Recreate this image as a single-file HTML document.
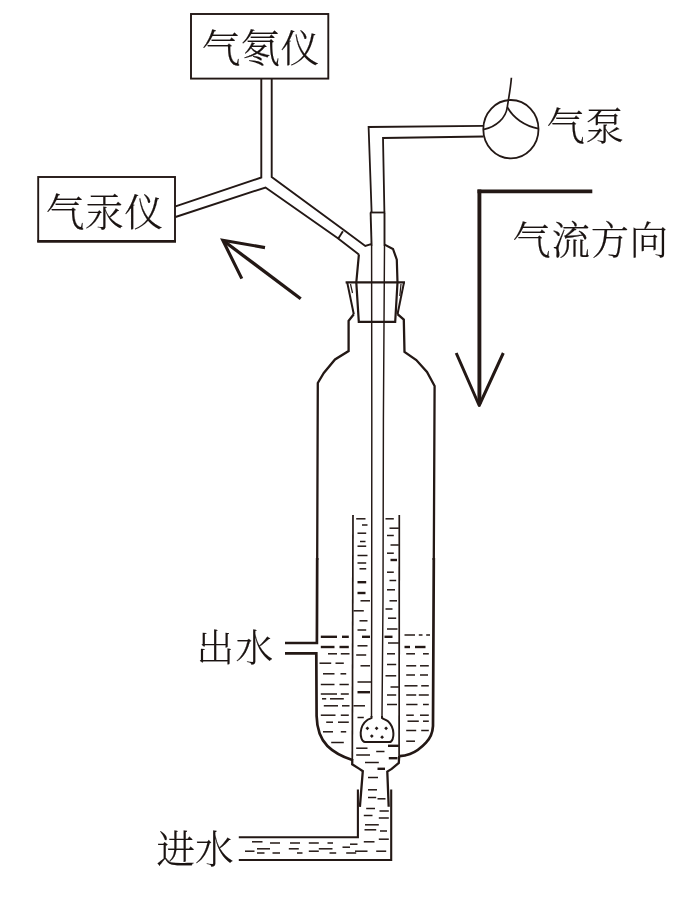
<!DOCTYPE html>
<html lang="zh-CN">
<head>
<meta charset="utf-8">
<title>气氡仪 气汞仪 集气装置示意图</title>
<style>
html,body{margin:0;padding:0;background:#fff;}
body{width:700px;height:898px;overflow:hidden;}
svg{display:block;will-change:transform;}
svg text{font-family:"Liberation Serif","Noto Serif CJK SC",serif;font-weight:300;}
</style>
</head>
<body>
<svg width="700" height="898" viewBox="0 0 700 898" fill="none" stroke="#231815" stroke-linejoin="miter" stroke-linecap="butt">
<rect x="0" y="0" width="700" height="898" fill="#ffffff" stroke="none"/>
<g id="boxes">
<rect x="191" y="14" width="137.3" height="64.6" stroke-width="1.9"/>
<rect x="38.2" y="177" width="136.8" height="64" stroke-width="1.9"/>
<line x1="37.2" y1="241.4" x2="176" y2="241.4" stroke-width="2.8"/>
</g>
<g id="ytube">
<path d="M261.3 79 L261.3 177.5 L175.5 206.3" stroke-width="1.9"/>
<path d="M175.5 217 L265.5 187.5 L337.5 238 L358.9 254.4" stroke-width="1.9"/>
<path d="M271.7 79 L271.7 177 L343.8 230 L365.3 246 L371.1 244.1" stroke-width="1.9"/>
<line x1="342.9" y1="231.3" x2="338" y2="239" stroke-width="1.9"/>
</g>
<g id="arrow1">
<path d="M300.7 298.7 L223.5 240.8" stroke-width="3.3"/>
<path d="M265 247.6 L222.8 240.3 L241.8 278.6" stroke-width="3.1"/>
</g>
<g id="pump">
<ellipse cx="510.9" cy="129.2" rx="27.6" ry="29.2" stroke-width="1.8"/>
<path d="M511.4 77.8 C510.4 90 508.6 98 507.3 107" stroke-width="1.7"/>
<path d="M507.3 107 C506 118 496 127 484 129.3" stroke-width="1.7"/>
<path d="M507.3 107 C513 118 525 126 538.3 128.6" stroke-width="1.7"/>
<path d="M483.6 125.8 L368.6 127 L371.6 212" stroke-width="1.8"/>
<path d="M483.6 136.5 L383 138 L384.4 212" stroke-width="1.8"/>
</g>
<g id="airflow">
<path d="M592.3 191.4 L477.5 191.4" stroke-width="3.7"/>
<path d="M479.4 189.6 L479.4 404" stroke-width="3.9"/>
<path d="M456.2 353 L479.2 405.5 L503.3 353" stroke-width="3" stroke-linejoin="round"/>
</g>
<g id="head">
<line x1="370" y1="212.5" x2="385.2" y2="212.5" stroke-width="1.8"/>
<path d="M370.6 212.5 L371.6 246" stroke-width="1.9"/>
<path d="M384.5 212.5 L384.5 246" stroke-width="1.9"/>
<path d="M358.9 254.4 L356.3 282.4 L358.8 321.9 L395.2 321.9 L397.5 282.4 L396.8 259.6 L393 249 L384.6 244.6" stroke-width="2.2"/>
<path d="M345.6 282.4 L405 282.4" stroke-width="2.2"/>
<path d="M347.2 282.4 L353.8 314.2" stroke-width="2"/>
<path d="M404 282.4 L397.5 314.2" stroke-width="2"/>
<path d="M350.5 284 L352.5 293" stroke-width="1.2"/>
<path d="M401 284 L399.8 296" stroke-width="1.2"/>
</g>
<g id="bottle">
<path d="M353.8 314.2 L348.6 320.8 L348.6 351 L335 359.5 L323.8 373 L317.8 383 L317.2 560" stroke-width="2.3"/>
<path d="M317.2 558 L316.9 643 L285 643" stroke-width="2.7"/>
<path d="M397.5 314.2 L403.8 319.6 L404.5 352 L416.3 360 L427 372 L434.6 386 L433.8 560" stroke-width="2.3"/>
<path d="M433.8 558 L433 726 C432.6 733 430 738.5 426 742.6 C421 748 414 752.5 410 754 C406.5 755.3 403 756 399.5 756.2" stroke-width="2.7"/>
<path d="M285 653.3 L316.3 653.3 L316.6 716 C316.9 728 321 739.5 327.4 746 C334 752.5 343 757 352.3 760" stroke-width="2.7"/>
</g>
<g id="tubes">
<path d="M371.6 246 L371.8 420 L371.7 600 L371.5 717" stroke-width="1.45"/>
<path d="M384.5 246 L383.4 420 L383 600 L382 717" stroke-width="1.45"/>
<path d="M353 515 L352.3 760" stroke-width="1.7"/>
<path d="M399.3 515 L399.1 757" stroke-width="1.7"/>
<path d="M371.5 716 L371.5 718 C370 719 368.5 719 367 720.3 C364 722.5 361.2 727 360.7 732.3 C360.5 736 361.5 742 365 742 L389.4 742 C392.5 742 393.6 737 393.4 733.4 C393.2 729 391.5 724.5 388 721.3 C386 719.5 383.5 719.3 382 718 L382 716" stroke-width="2.0"/>
</g>
<g id="inlet">
<path d="M352.3 759 L352.2 764.3 L359.4 768.9 L362.8 771.2 L359.9 806.8" stroke-width="2.3"/>
<path d="M399.2 756 L398.8 763 L391.7 768.9 L387.3 771.6 L388.7 806.8" stroke-width="2.3"/>
<path d="M357.9 789.4 L357.9 837.3 L238.8 837.3" stroke-width="2.1"/>
<path d="M391.2 789.4 L391.2 860 L238.8 860" stroke-width="2.1"/>
</g>
<g id="water" stroke-linecap="butt">
<path d="M356.2 518.8H365.5" stroke-width="1.5"/>
<path d="M362.0 525.0H367.5" stroke-width="1.5"/>
<path d="M357.5 533.2H366.2" stroke-width="1.5"/>
<path d="M360.0 541.5H365.5" stroke-width="1.5"/>
<path d="M357.5 546.2H366.2" stroke-width="1.5"/>
<path d="M357.5 555.5H367.5" stroke-width="1.5"/>
<path d="M357.5 563.0H366.2" stroke-width="1.5"/>
<path d="M359.5 568.8H366.2" stroke-width="1.5"/>
<path d="M357.5 582.2H366.2" stroke-width="2.4"/>
<path d="M357.5 593.0H365.5" stroke-width="2.4"/>
<path d="M360.5 600.8H370.0" stroke-width="1.5"/>
<path d="M353.5 610.8H363.8" stroke-width="1.5"/>
<path d="M359.5 620.8H367.5" stroke-width="1.5"/>
<path d="M357.5 630.0H366.2" stroke-width="1.5"/>
<path d="M385.5 518.8H393.8" stroke-width="1.5"/>
<path d="M389.5 528.2H398.8" stroke-width="1.5"/>
<path d="M387.0 535.5H393.8" stroke-width="1.5"/>
<path d="M390.5 545.0H398.8" stroke-width="1.5"/>
<path d="M387.0 553.2H393.8" stroke-width="1.5"/>
<path d="M390.5 560.0H397.0" stroke-width="2.4"/>
<path d="M387.0 572.2H393.8" stroke-width="1.5"/>
<path d="M389.5 580.5H396.2" stroke-width="1.5"/>
<path d="M387.0 589.8H395.0" stroke-width="1.5"/>
<path d="M389.5 600.8H397.0" stroke-width="1.5"/>
<path d="M385.5 609.0H392.5" stroke-width="1.5"/>
<path d="M388.0 618.2H396.2" stroke-width="1.5"/>
<path d="M387.0 629.0H397.5" stroke-width="1.5"/>
<path d="M320.8 636.8H337.0" stroke-width="2.4"/>
<path d="M342.0 636.8H348.8" stroke-width="2.4"/>
<path d="M362.0 636.8H370.0" stroke-width="2.4"/>
<path d="M384.5 636.8H392.5" stroke-width="2.4"/>
<path d="M404.5 635.0H415.0" stroke-width="1.5"/>
<path d="M418.8 635.0H422.5" stroke-width="1.5"/>
<path d="M426.2 635.0H430.0" stroke-width="1.5"/>
<path d="M320.8 647.0H334.5" stroke-width="2.4"/>
<path d="M339.5 647.0H348.8" stroke-width="2.4"/>
<path d="M404.5 647.0H410.0" stroke-width="2.4"/>
<path d="M415.0 647.0H425.5" stroke-width="2.4"/>
<path d="M357.5 645.8H367.5" stroke-width="1.5"/>
<path d="M388.0 643.0H398.8" stroke-width="1.5"/>
<path d="M328.0 653.8H337.0" stroke-width="1.5"/>
<path d="M340.8 653.8H349.5" stroke-width="1.5"/>
<path d="M387.0 653.8H395.0" stroke-width="1.5"/>
<path d="M406.2 653.8H415.0" stroke-width="1.5"/>
<path d="M423.0 653.8H428.8" stroke-width="1.5"/>
<path d="M356.2 655.0H366.2" stroke-width="1.5"/>
<path d="M319.5 663.2H331.2" stroke-width="1.5"/>
<path d="M335.5 663.2H343.8" stroke-width="1.5"/>
<path d="M360.5 665.8H370.0" stroke-width="1.5"/>
<path d="M406.2 665.8H416.2" stroke-width="1.5"/>
<path d="M420.0 665.8H428.8" stroke-width="1.5"/>
<path d="M387.0 664.5H396.2" stroke-width="1.5"/>
<path d="M323.0 673.8H334.5" stroke-width="1.5"/>
<path d="M340.5 673.8H346.2" stroke-width="1.5"/>
<path d="M406.2 675.0H415.0" stroke-width="1.5"/>
<path d="M420.0 675.0H428.0" stroke-width="1.5"/>
<path d="M385.5 675.8H396.2" stroke-width="1.5"/>
<path d="M357.5 682.0H371.2" stroke-width="1.5"/>
<path d="M320.8 684.5H334.5" stroke-width="1.5"/>
<path d="M339.5 684.5H348.8" stroke-width="1.5"/>
<path d="M404.5 685.8H417.5" stroke-width="1.5"/>
<path d="M421.2 685.8H428.8" stroke-width="1.5"/>
<path d="M390.5 687.0H398.8" stroke-width="1.5"/>
<path d="M357.5 692.2H370.0" stroke-width="2.4"/>
<path d="M320.8 694.0H337.0" stroke-width="1.5"/>
<path d="M340.8 694.0H348.8" stroke-width="1.5"/>
<path d="M387.0 695.0H396.2" stroke-width="1.5"/>
<path d="M406.2 695.0H416.2" stroke-width="1.5"/>
<path d="M418.8 695.0H428.8" stroke-width="1.5"/>
<path d="M322.0 698.8H326.2" stroke-width="1.5"/>
<path d="M330.0 698.8H343.8" stroke-width="1.5"/>
<path d="M387.0 704.5H397.0" stroke-width="1.5"/>
<path d="M406.2 704.5H417.5" stroke-width="1.5"/>
<path d="M423.0 704.5H428.8" stroke-width="1.5"/>
<path d="M323.8 705.8H338.0" stroke-width="1.5"/>
<path d="M342.0 705.8H349.5" stroke-width="1.5"/>
<path d="M353.5 705.8H365.0" stroke-width="1.5"/>
<path d="M320.8 715.2H335.5" stroke-width="1.5"/>
<path d="M340.8 715.2H348.8" stroke-width="1.5"/>
<path d="M406.2 715.2H413.8" stroke-width="1.5"/>
<path d="M420.0 715.2H428.8" stroke-width="1.5"/>
<path d="M357.5 717.5H363.8" stroke-width="1.5"/>
<path d="M326.2 722.2H333.0" stroke-width="1.5"/>
<path d="M338.0 722.2H348.8" stroke-width="1.5"/>
<path d="M407.5 721.2H418.8" stroke-width="1.5"/>
<path d="M423.0 721.2H428.8" stroke-width="1.5"/>
<path d="M323.0 731.8H333.0" stroke-width="1.5"/>
<path d="M340.8 731.8H346.2" stroke-width="1.5"/>
<path d="M406.2 730.5H416.2" stroke-width="1.5"/>
<path d="M421.2 730.5H428.8" stroke-width="1.5"/>
<path d="M331.2 742.5H343.8" stroke-width="1.5"/>
<path d="M406.2 741.2H415.0" stroke-width="1.5"/>
<path d="M388.0 745.8H398.8" stroke-width="2.4"/>
<path d="M356.2 748.2H367.5" stroke-width="1.5"/>
<path d="M376.2 751.5H384.5" stroke-width="1.5"/>
<path d="M356.2 755.0H370.0" stroke-width="1.5"/>
<path d="M388.8 758.2H397.5" stroke-width="2.4"/>
<path d="M365.0 762.5H378.8" stroke-width="1.5"/>
<path d="M377.5 768.8H385.0" stroke-width="2.4"/>
<path d="M368.0 777.5H378.0" stroke-width="1.5"/>
<path d="M368.0 789.8H377.0" stroke-width="1.5"/>
<path d="M368.0 797.5H376.2" stroke-width="1.5"/>
<path d="M377.5 798.8H385.5" stroke-width="1.5"/>
<path d="M366.2 808.5H375.0" stroke-width="1.5"/>
<path d="M379.5 811.0H388.8" stroke-width="1.5"/>
<path d="M363.8 815.5H372.5" stroke-width="1.5"/>
<path d="M378.8 818.0H388.8" stroke-width="1.5"/>
<path d="M365.0 824.8H378.8" stroke-width="1.5"/>
<path d="M364.5 829.8H376.2" stroke-width="1.5"/>
<path d="M380.0 831.0H387.0" stroke-width="1.5"/>
<path d="M378.8 839.2H388.8" stroke-width="1.5"/>
<path d="M363.8 841.8H374.5" stroke-width="1.5"/>
<path d="M252.0 841.8H262.5" stroke-width="1.5"/>
<path d="M270.0 843.0H280.0" stroke-width="1.5"/>
<path d="M290.0 843.0H300.0" stroke-width="1.5"/>
<path d="M308.8 843.0H318.8" stroke-width="1.5"/>
<path d="M327.5 843.0H333.0" stroke-width="1.5"/>
<path d="M350.0 844.2H357.5" stroke-width="1.5"/>
<path d="M342.5 847.2H350.0" stroke-width="1.5"/>
<path d="M257.0 848.8H270.0" stroke-width="1.5"/>
<path d="M288.8 848.8H298.8" stroke-width="1.5"/>
<path d="M318.8 848.8H332.5" stroke-width="1.5"/>
<path d="M245.0 851.2H254.5" stroke-width="1.5"/>
<path d="M308.8 851.2H318.8" stroke-width="1.5"/>
<path d="M355.0 851.2H367.5" stroke-width="1.5"/>
<path d="M376.2 851.2H386.2" stroke-width="1.5"/>
<path d="M257.0 853.0H264.5" stroke-width="1.5"/>
<path d="M272.5 853.0H280.0" stroke-width="1.5"/>
<path d="M297.0 853.0H302.5" stroke-width="1.5"/>
<path d="M329.5 853.0H336.2" stroke-width="1.5"/>
<path d="M346.2 853.0H356.2" stroke-width="1.5"/>
</g>
<g id="dots" fill="#231815" stroke="none">
<path d="M365.5 728.3L367.4 726.4L369.3 728.3L367.4 730.2Z"/>
<path d="M374.7 728.3L376.6 726.4L378.5 728.3L376.6 730.2Z"/>
<path d="M384.2 728.3L386.1 726.4L388.0 728.3L386.1 730.2Z"/>
<path d="M369.9 736.1L371.8 734.2L373.7 736.1L371.8 738.0Z"/>
<path d="M380.2 737.2L382.1 735.3L384.0 737.2L382.1 739.1Z"/>
</g>
<g id="labels" fill="#1a1311" stroke="#1a1311" stroke-width="0.2" stroke-linejoin="round">
<text x="201.8" y="61.9" font-size="38.8" letter-spacing="0.5">气氡仪</text>
<text x="45.7" y="226.2" font-size="38.8" letter-spacing="0.5">气汞仪</text>
<text x="546.4" y="139.8" font-size="38.4" letter-spacing="0.6">气泵</text>
<text x="512.6" y="254.4" font-size="38.2" letter-spacing="0.9">气流方向</text>
<text x="196.5" y="661.4" font-size="37.5" letter-spacing="1.5">出水</text>
<text x="156.5" y="863.2" font-size="38.5" letter-spacing="0">进水</text>
</g>
</svg>
</body>
</html>
